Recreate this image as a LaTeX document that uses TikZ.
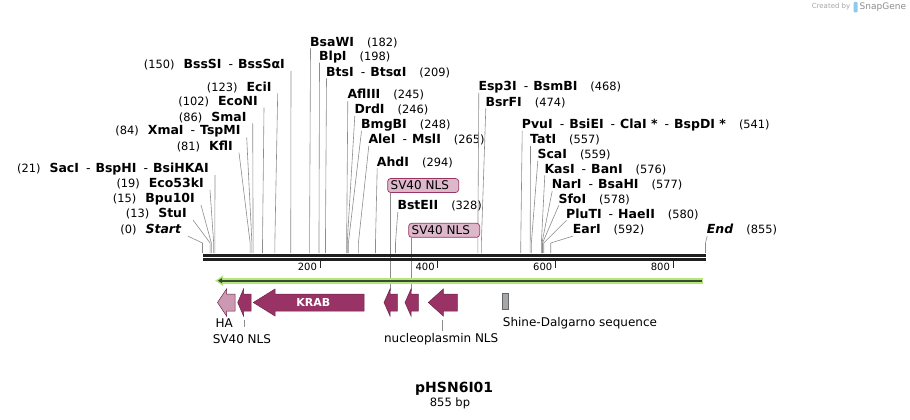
\documentclass[tikz,border=0pt]{standalone}
\usepackage{fontspec}
\setmainfont{DejaVu Sans}
\usepackage{tikz}
\usetikzlibrary{arrows.meta}

\definecolor{nlsred}{HTML}{993366}
\definecolor{nlsedge}{HTML}{6E2449}
\definecolor{hapink}{HTML}{CC99B3}
\definecolor{boxpink}{HTML}{DDB8CB}
\definecolor{orfgreen}{HTML}{B4E67E}
\definecolor{orfdark}{HTML}{3C4A30}
\definecolor{sdgray}{HTML}{A3A8AD}
\definecolor{cutgray}{HTML}{8C8C8C}
\definecolor{logoblue}{HTML}{8CCBEB}

\newcommand{\numfont}{\fontsize{11.4}{13}\selectfont\mdseries}
\newcommand{\enzsep}{\hspace{7pt}{\mdseries -}\hspace{5pt}}
% feature arrow pointing left: tip x, head base x, tail x, fill
\newcommand{\featarrow}[4]{%
  \draw[nlsedge, fill=#4, line width=0.5pt] (#1,302.5) -- (#2,289) -- (#2,294) -- (#3,294)
    -- (#3,311) -- (#2,311) -- (#2,316) -- cycle;}

\begin{document}
\begin{tikzpicture}[x=1pt,y=-1pt,
    enzyme/.style={inner sep=0pt, font=\fontsize{12.5}{14}\selectfont\bfseries},
    cutline/.style={draw=cutgray, line width=0.6pt},
    ticklab/.style={inner sep=0pt, anchor=east, font=\fontsize{10}{12}\selectfont},
    featlab/.style={inner sep=0pt, font=\fontsize{12}{14}\selectfont},
    nlsbox/.style={draw=nlsred, fill=boxpink, rounded corners=3pt, line width=0.7pt,
      inner xsep=3pt, inner ysep=0pt, minimum height=14pt, text width=65pt, align=left,
      font=\fontsize{12}{14}\selectfont, anchor=west}]
  \useasboundingbox (0,0) rectangle (910,420);

  % cut sites, labels to the left
  \foreach \bp/\ex/\ey/\name in {
      0/181.7/230/\textit{Start},
      13/187/214/StuI,
      15/195/199/Bpu10I,
      19/204/184/Eco53kI,
      21/209/169/SacI\enzsep BspHI\enzsep BsiHKAI,
      81/233/146.7/KflI,
      84/240.7/131.7/XmaI\enzsep TspMI,
      86/246.7/117.3/SmaI,
      102/258/101.7/EcoNI,
      123/271.7/87.3/EciI,
      150/285/65/BssSI\enzsep BssSαI}{
    \node[enzyme, anchor=east] (cut\bp) at (\ex,\ey) {{\numfont(\bp)}\hspace{9pt}\name};
    \coordinate (bend\bp) at ({202.5+0.5883*\bp},243);
    \coordinate (site\bp) at ({202.5+0.5883*\bp},253);
    \draw[cutline] ([xshift=6pt,yshift=-6pt]cut\bp.east) -- (bend\bp) -- (site\bp);
  }

  % cut sites, labels to the right
  \foreach \bp/\ex/\ey/\name in {
      182/310/42.3/BsaWI,
      198/319/56.7/BlpI,
      209/326/72.3/BtsI\enzsep BtsαI,
      245/347.3/95/AflIII,
      246/354.3/110/DrdI,
      248/361/125/BmgBI,
      265/368.3/140/AleI\enzsep MslI,
      294/376.7/162.3/AhdI,
      328/397.3/206/BstEII,
      468/478.3/86.7/Esp3I\enzsep BsmBI,
      474/485.3/102.3/BsrFI,
      541/521.7/125/PvuI\enzsep BsiEI\enzsep ClaI *\enzsep BspDI *,
      557/530/140/TatI,
      559/537.3/155/ScaI,
      576/544.3/169.3/KasI\enzsep BanI,
      577/551.7/185/NarI\enzsep BsaHI,
      578/558.3/199.3/SfoI,
      580/566/214.3/PluTI\enzsep HaeII,
      592/572.7/230/EarI,
      855/706.7/230/\textit{End}}{
    \node[enzyme, anchor=west] (cut\bp) at (\ex,\ey) {\name\hspace{13pt}{\numfont(\bp)}};
    \coordinate (bend\bp) at ({202.5+0.5883*\bp},243);
    \coordinate (site\bp) at ({202.5+0.5883*\bp},253);
    \draw[cutline] ([xshift=0.5pt,yshift=-6pt]cut\bp.west) -- (bend\bp) -- (site\bp);
  }

  % SV40 NLS boxes above the map
  \node[nlsbox] (sv40a) at (387.3,185.5) {SV40 NLS};
  \node[nlsbox] (sv40b) at (408.3,230.3) {SV40 NLS};
  \coordinate (nlsa) at (390.3,291);
  \coordinate (nlsb) at (411.3,291);
  \draw[cutline] ([xshift=3pt]sv40a.south west) -- (nlsa);
  \draw[cutline] ([xshift=3pt]sv40b.south west) -- (nlsb);

  % backbone and ruler
  \draw[line width=2.7pt, black!88] (203,255.3) -- (706,255.3);
  \draw[line width=2.4pt, black!88] (203,259.5) -- (706,259.5);
  \foreach \t in {200,400,600,800}{
    \draw[line width=1.3pt, black!85] ({202.5+0.5883*\t},261) -- ++(0,7);
    \node[ticklab] (tick\t) at ({202.5+0.5883*\t-3},266.7) {\t};
  }

  % open reading frame
  \draw[orfgreen, line width=6pt, -{Triangle[length=8pt,width=10pt]}] (703.3,280.7) -- (215,280.7);
  \draw[orfdark, line width=1.6pt, -{Triangle[length=4pt,width=5pt]}] (701.5,280.7) -- (218,280.7);

  % features
  \featarrow{217.5}{226.5}{235}{hapink}
  \featarrow{237.7}{243.5}{251}{nlsred}
  \featarrow{253.3}{275}{364}{nlsred}
  \featarrow{384}{390}{397.3}{nlsred}
  \featarrow{405}{411}{418.3}{nlsred}
  \featarrow{428.3}{443.3}{457.3}{nlsred}
  \draw[fill=sdgray, draw=black!60, line width=0.5pt] (502.7,293.3) rectangle (508.3,309.3);
  \node[inner sep=0pt, text=white, font=\fontsize{11}{12}\selectfont\bfseries] (krab) at (313.3,302.5) {KRAB};

  % feature labels
  \node[featlab] (ha) at (224.2,322.7) {HA};
  \node[featlab] (sv40c) at (241.9,339.3) {SV40 NLS};
  \node[featlab] (nucnls) at (441.2,339.3) {nucleoplasmin NLS};
  \node[featlab, anchor=west] (sdseq) at (502.7,322.7) {Shine-Dalgarno sequence};
  \coordinate (sv40foot) at (244.3,320);
  \coordinate (sv40tip) at (244.3,327.3);
  \coordinate (nucfoot) at (442.3,320);
  \coordinate (nuctip) at (442.3,330.7);
  \draw[cutline] (sv40foot) -- (sv40tip);
  \draw[cutline] (nucfoot) -- (nuctip);

  % title
  \node[inner sep=0pt, font=\fontsize{14}{16}\selectfont\bfseries] (title) at (454.2,388.3) {pHSN6I01};
  \node[inner sep=0pt, font=\fontsize{11.5}{13}\selectfont] (length) at (450,403.3) {855 bp};

  % watermark
  \node[inner sep=0pt, anchor=east, text=black!35, font=\fontsize{7}{8}\selectfont] (made) at (850.5,7) {Created by};
  \fill[logoblue, rounded corners=1pt] (853.5,2) rectangle (857.5,12.5);
  \node[inner sep=0pt, anchor=west, text=black!45, font=\fontsize{9}{10}\selectfont] (snap) at (859.5,7.5) {SnapGene};
\end{tikzpicture}
\end{document}
